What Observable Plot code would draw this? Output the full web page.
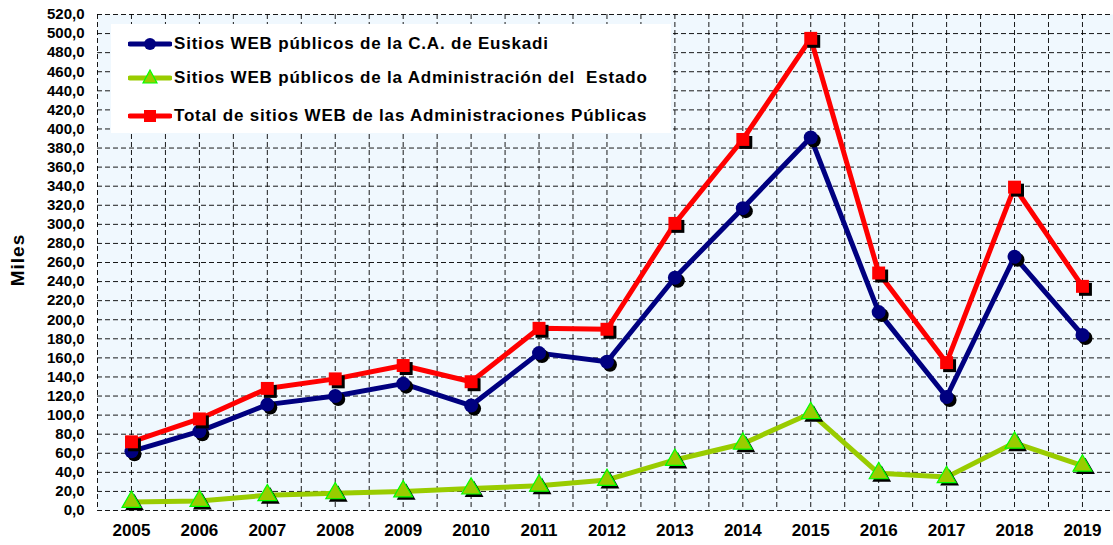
<!DOCTYPE html>
<html>
<head>
<meta charset="utf-8">
<script src="https://cdn.jsdelivr.net/npm/d3@7"></script>
<script src="https://cdn.jsdelivr.net/npm/@observablehq/plot@0.6"></script>
<style>
  body { margin: 0; background: #fff; }
  #wrap { position: relative; width: 1113px; height: 545px; overflow: hidden; font-family: "Liberation Sans", Arial, sans-serif; }
  #legend { position: absolute; left: 111px; top: 24px; width: 560px; height: 109px; background: #fff; }
  .row { position: absolute; left: 0; height: 24px; display: flex; align-items: center; }
  .row svg { margin-left: 17px; }
  .row span { font-weight: bold; font-size: 17px; letter-spacing: 0.8px; color: #000; margin-left: 2px; white-space: pre; }
  #ylab { position: absolute; left: 18px; top: 260px; transform: translate(-50%, -50%) rotate(-90deg); font-weight: bold; font-size: 19px; letter-spacing: 1px; white-space: nowrap; }
</style>
</head>
<body>
<div id="wrap"></div>
<script>
const years = [2005, 2006, 2007, 2008, 2009, 2010, 2011, 2012, 2013, 2014, 2015, 2016, 2017, 2018, 2019];
const euskadi = [62, 83, 111, 120, 133, 110, 165, 156, 244, 317, 391, 208, 119, 266, 184];
const estado = [9, 10, 16, 18, 20, 23, 26, 32, 53, 70, 102, 39, 35, 71, 47];
const total = [72, 96, 128, 138, 152, 135, 191, 190, 301, 389, 495, 249, 155, 339, 235];
const seriesNames = [
  "Sitios WEB públicos de la C.A. de Euskadi",
  "Sitios WEB públicos de la Administración del  Estado",
  "Total de sitios WEB de las Administraciones Públicas"
];
const yTicks = d3.range(0, 521, 20);

const rows = (vals) => years.map((y, i) => ({year: y, value: vals[i]}));
const rEus = rows(euskadi), rEst = rows(estado), rTot = rows(total);
const gridX = d3.range(2004.5, 2019.6, 0.5);

const blue = "#000080", green = "#99cc00", red = "#ff0000";

const chart = Plot.plot({
  width: 1113, height: 545,
  marginLeft: 97, marginRight: 0, marginTop: 14, marginBottom: 35,
  x: {domain: [2004.5, 2019.457]},
  y: {domain: [0, 520]},
  style: {fontFamily: "'Liberation Sans', Arial, sans-serif", background: "transparent", color: "#000"},
  marks: [
    Plot.frame({fill: "#f0f8fe", stroke: null}),
    Plot.ruleY(yTicks, {stroke: "#000", strokeWidth: 1, strokeDasharray: "5,3", strokeOpacity: 0.9}),
    Plot.ruleX(gridX, {stroke: "#000", strokeWidth: 1, strokeDasharray: "5,3", strokeOpacity: 0.9}),
    Plot.axisY({ticks: yTicks, tickSize: 0, tickPadding: 13, tickFormat: d => d.toFixed(1).replace(".", ","), fontSize: 15, fontWeight: "bold", label: null}),
    Plot.axisX({ticks: years, tickSize: 0, tickPadding: 13, tickFormat: d => String(d), fontSize: 17, fontWeight: "bold", label: null}),
    Plot.line(rEst, {x: "year", y: "value", stroke: green, strokeWidth: 5}),
    Plot.line(rEus, {x: "year", y: "value", stroke: blue, strokeWidth: 5}),
    Plot.line(rTot, {x: "year", y: "value", stroke: red, strokeWidth: 5}),
    Plot.dot(rEst, {x: "year", y: "value", symbol: "triangle", r: 7, fill: "#000", dx: 3, dy: 3}),
    Plot.dot(rEst, {x: "year", y: "value", symbol: "triangle", r: 7, fill: green, stroke: "#00ff00", strokeWidth: 1.2}),
    Plot.dot(rEus, {x: "year", y: "value", symbol: "circle", r: 7, fill: "#000", dx: 3, dy: 3}),
    Plot.dot(rEus, {x: "year", y: "value", symbol: "circle", r: 7, fill: blue}),
    Plot.dot(rTot, {x: "year", y: "value", symbol: "square", r: 7.3, fill: "#000", dx: 3, dy: 3}),
    Plot.dot(rTot, {x: "year", y: "value", symbol: "square", r: 7.3, fill: red})
  ]
});

const wrap = document.getElementById("wrap");
wrap.appendChild(chart);

const ylab = document.createElement("div");
ylab.id = "ylab";
ylab.textContent = "Miles";
wrap.appendChild(ylab);

const legend = document.createElement("div");
legend.id = "legend";
const swatches = [
  `<line x1="2" y1="12" x2="42" y2="12" stroke="${blue}" stroke-width="5" stroke-linecap="round"/><circle cx="22" cy="12" r="6" fill="${blue}"/>`,
  `<line x1="2" y1="12" x2="42" y2="12" stroke="${green}" stroke-width="5" stroke-linecap="round"/><path d="M22,4 L29,17 L15,17 Z" fill="${green}" stroke="#00ff00" stroke-width="1.2"/>`,
  `<line x1="2" y1="12" x2="42" y2="12" stroke="${red}" stroke-width="5" stroke-linecap="round"/><rect x="16" y="6" width="12" height="12" fill="${red}"/>`
];
const tops = [8, 42, 80];
seriesNames.forEach((name, i) => {
  const row = document.createElement("div");
  row.className = "row";
  row.style.top = tops[i] + "px";
  row.innerHTML = `<svg width="44" height="24">${swatches[i]}</svg><span></span>`;
  row.querySelector("span").textContent = name;
  legend.appendChild(row);
});
wrap.appendChild(legend);
</script>
</body>
</html>
